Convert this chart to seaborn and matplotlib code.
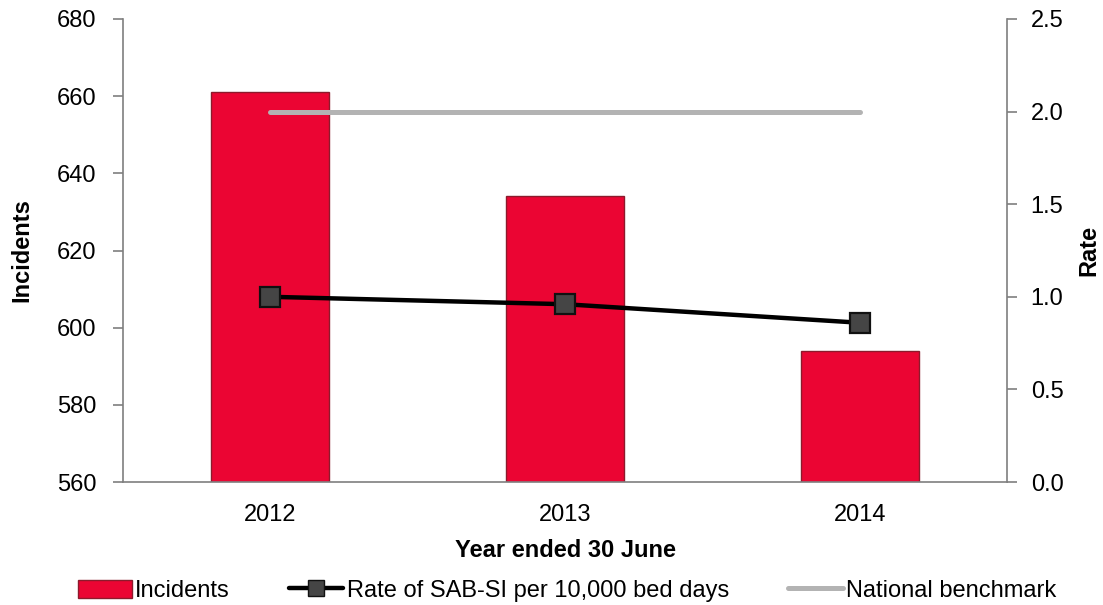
import numpy as np
import pandas as pd
import matplotlib
matplotlib.use("Agg")
import matplotlib.pyplot as plt
import seaborn as sns
from matplotlib.ticker import FormatStrFormatter, FixedLocator
from matplotlib.lines import Line2D
from matplotlib.patches import Patch

# Data
years = ["2012", "2013", "2014"]
incidents = [661, 634, 594]
rate = [1.00, 0.96, 0.86]
benchmark = [2.0, 2.0, 2.0]

sns.set_style("white")
plt.rcParams["font.family"] = ["Liberation Sans", "DejaVu Sans"]
plt.rcParams["text.color"] = "black"
plt.rcParams["axes.labelcolor"] = "black"
plt.rcParams["xtick.color"] = "black"
plt.rcParams["ytick.color"] = "black"

bar_color = "#EB0533"
axis_gray = "#7f7f7f"

df = pd.DataFrame({"year": years, "incidents": incidents,
                   "rate": rate, "benchmark": benchmark,
                   "pos": np.arange(len(years))})

fig = plt.figure(figsize=(11.03, 6.05), dpi=100)
ax = fig.add_axes([0.1115, 0.2033, 0.8015, 0.7653])

sns.barplot(data=df, x="year", y="incidents", order=years, color=bar_color,
            width=0.4, saturation=1, edgecolor="#8c1a2c", linewidth=1.0, ax=ax)

ax.set_ylim(560, 680)
ax.set_yticks(np.arange(560, 681, 20))
ax.set_xlim(-0.5, len(years) - 0.5)
ax.set_xlabel("Year ended 30 June", fontsize=17, fontweight="bold", labelpad=9)
ax.set_ylabel("Incidents", fontsize=17, fontweight="bold", labelpad=17)

# tick marks on category boundaries, labels at centres
ax.set_xticks(df["pos"])
ax.set_xticklabels(years)
ax.xaxis.set_minor_locator(FixedLocator(np.arange(len(years) + 1) - 0.5))
ax.tick_params(axis="x", which="major", length=0, labelsize=17, pad=16,
               labelcolor="black")
ax.tick_params(axis="x", which="minor", length=7, width=1.2, color=axis_gray, direction="out")
ax.tick_params(axis="y", length=7, width=1.2, color=axis_gray, direction="out",
               labelsize=17, pad=12, left=True, labelcolor="black")

for s in ["top", "right"]:
    ax.spines[s].set_visible(False)
for s in ["left", "bottom"]:
    ax.spines[s].set_color(axis_gray)
    ax.spines[s].set_linewidth(1.2)

ax2 = ax.twinx()
sns.lineplot(data=df, x="pos", y="benchmark", color="#b3b3b3", linewidth=3.6,
             ax=ax2, legend=False)
sns.lineplot(data=df, x="pos", y="rate", color="black", linewidth=3.2,
             marker="s", markersize=15, markerfacecolor="#454545",
             markeredgecolor="#111111", markeredgewidth=1.6, ax=ax2, legend=False)
ax2.set_ylim(0, 2.5)
ax2.set_yticks(np.arange(0, 2.51, 0.5))
ax2.yaxis.set_major_formatter(FormatStrFormatter("%.1f"))
ax2.set_ylabel("Rate", fontsize=17, fontweight="bold", labelpad=10)
ax2.set_xlim(-0.5, len(years) - 0.5)
ax2.tick_params(axis="y", length=7, width=1.2, color=axis_gray, direction="out",
                labelsize=17, pad=10, right=True, labelcolor="black")
for s in ["top", "left", "bottom"]:
    ax2.spines[s].set_visible(False)
ax2.spines["right"].set_color(axis_gray)
ax2.spines["right"].set_linewidth(1.2)

handles = [
    Patch(facecolor=bar_color, edgecolor="#8c1a2c", label="Incidents"),
    Line2D([], [], color="black", linewidth=3.2, marker="s", markersize=12,
           markerfacecolor="#454545", markeredgecolor="#111111",
           label="Rate of SAB-SI per 10,000 bed days"),
    Line2D([], [], color="#b3b3b3", linewidth=3.6, label="National benchmark"),
]
fig.legend(handles=handles, loc="lower center", bbox_to_anchor=(0.514, -0.03),
           ncol=3, frameon=False, fontsize=17, handlelength=2.3,
           handleheight=0.8, handletextpad=0.15, columnspacing=2.5)

fig.savefig("out.png", dpi=100)
